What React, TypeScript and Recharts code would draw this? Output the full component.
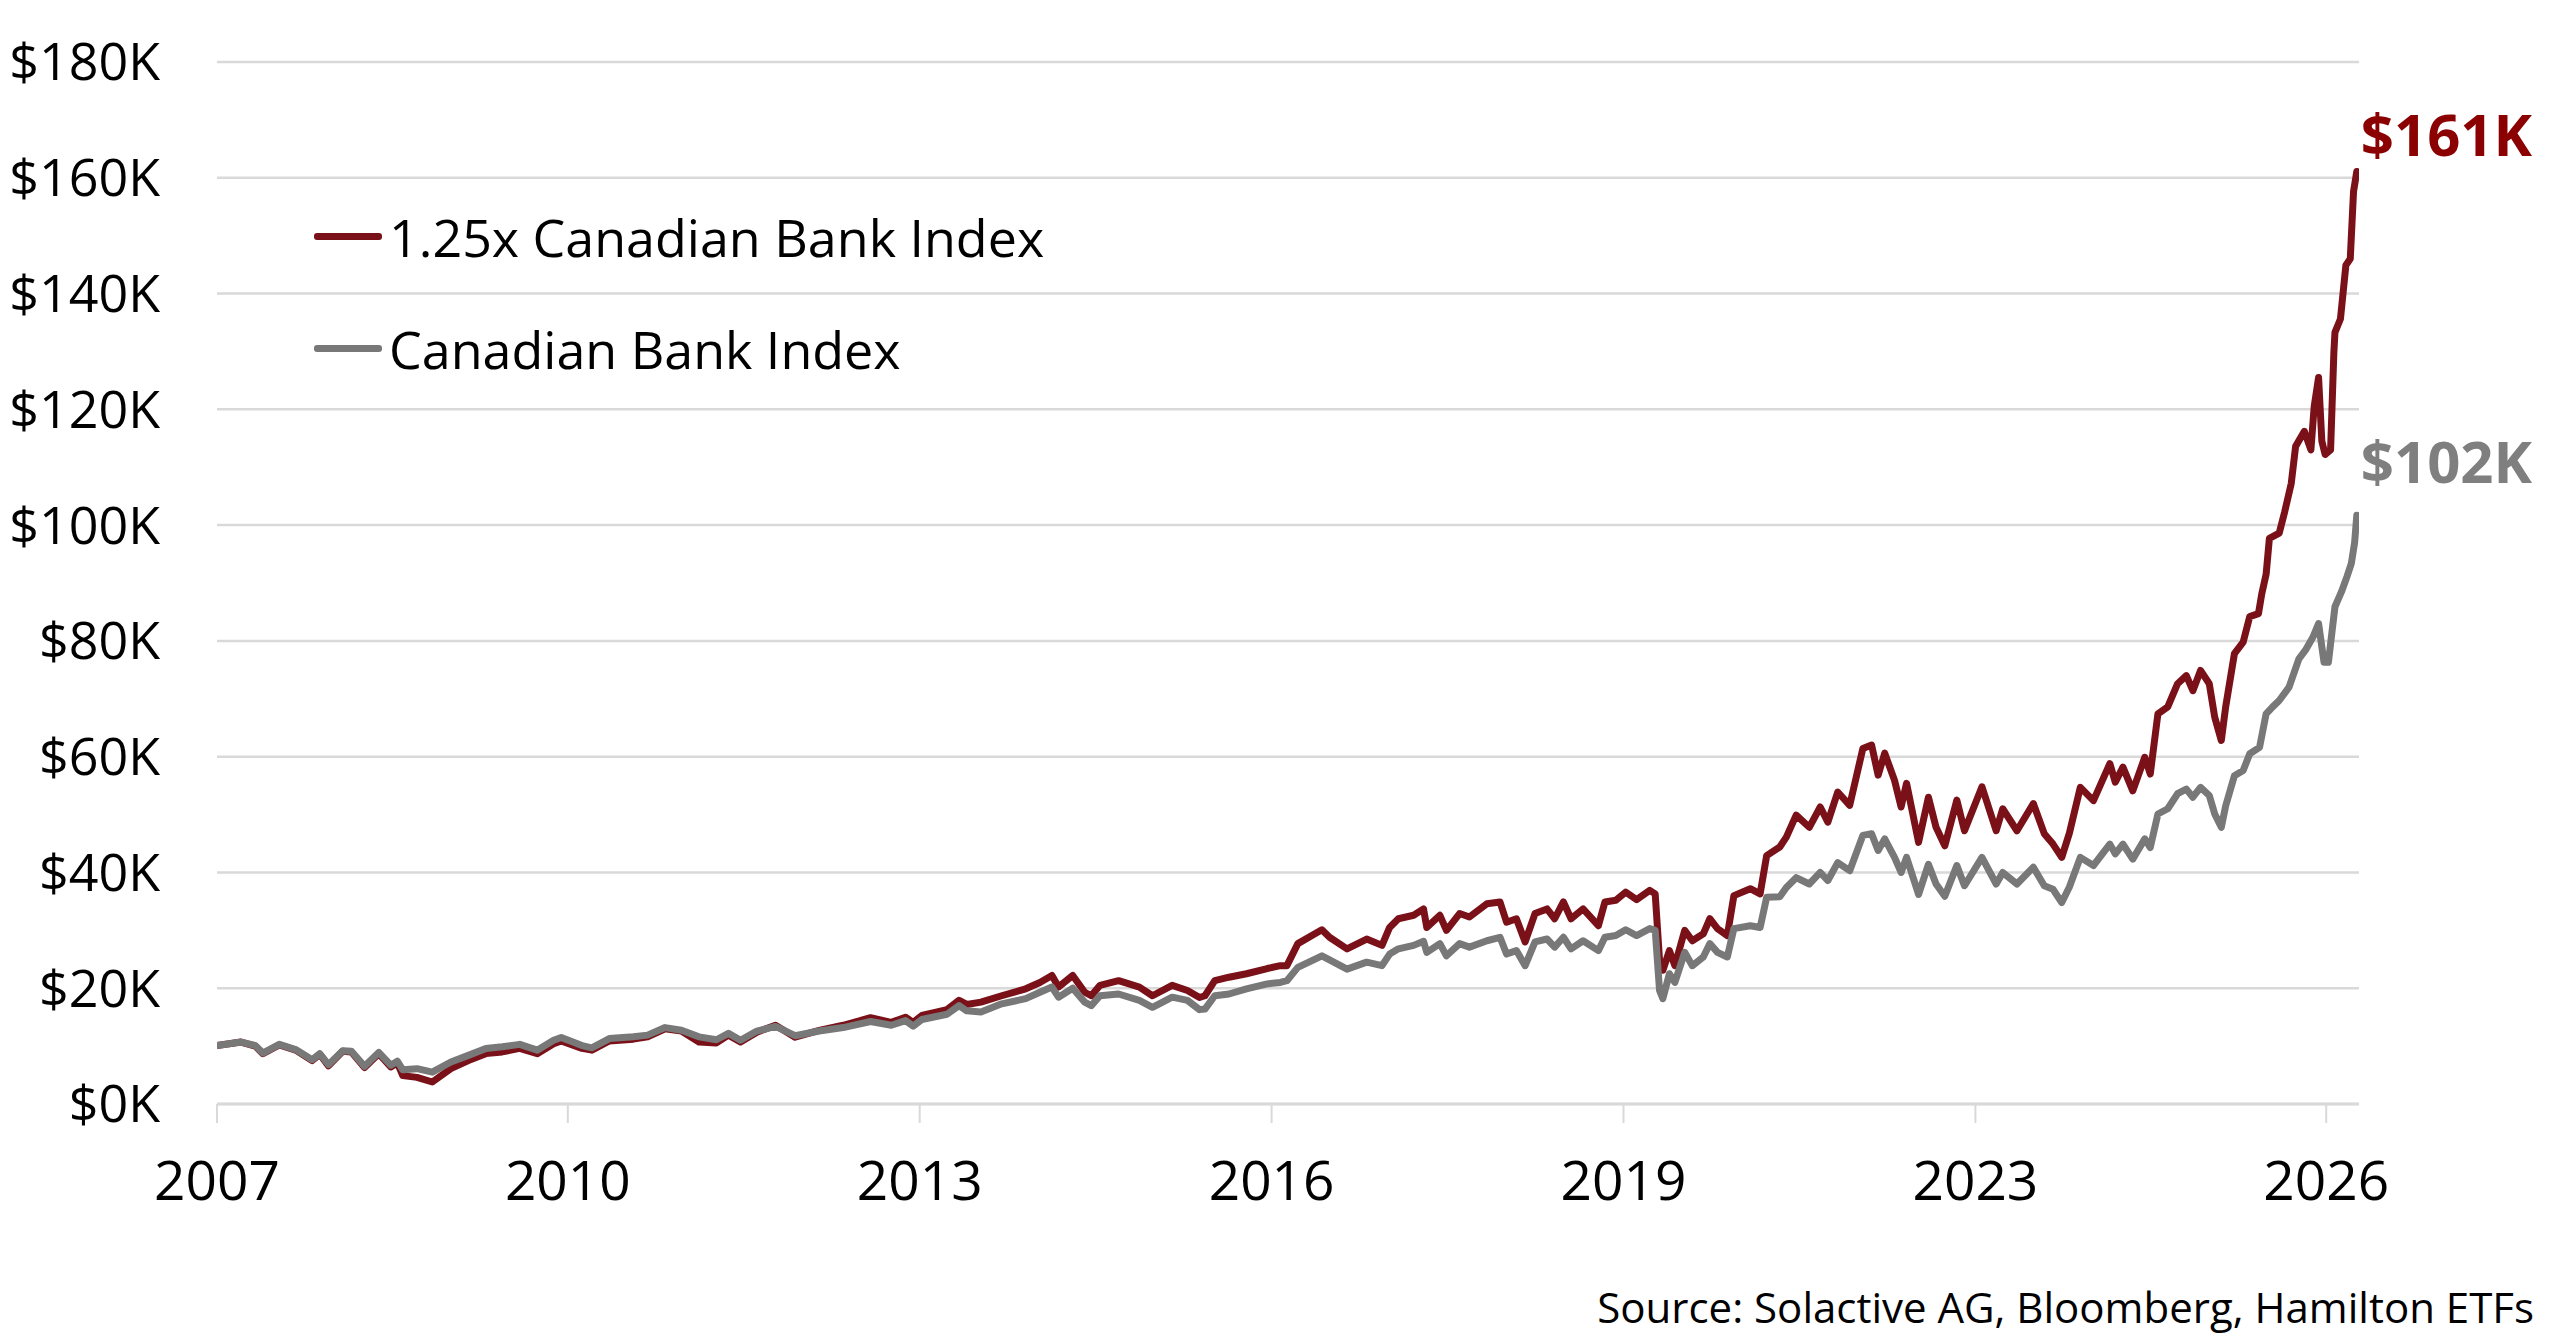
import React from "react";
import { LineChart, Line, XAxis, YAxis, CartesianGrid } from "recharts";

// Decimal-year positions of the readings
const redDates = [
  2007.0, 2007.22, 2007.35, 2007.42, 2007.57, 2007.72, 2007.87, 2007.94, 2008.02, 2008.15,
  2008.23, 2008.35, 2008.48, 2008.59, 2008.65, 2008.7, 2008.83, 2008.97, 2009.14, 2009.3,
  2009.46, 2009.61, 2009.77, 2009.93, 2010.08, 2010.15, 2010.34, 2010.43, 2010.59, 2010.81,
  2010.94, 2011.1, 2011.25, 2011.41, 2011.57, 2011.68, 2011.79, 2011.94, 2012.11, 2012.29,
  2012.51, 2012.73, 2012.98, 2013.17, 2013.3, 2013.37, 2013.45, 2013.68, 2013.79, 2013.86,
  2013.99, 2014.18, 2014.4, 2014.53, 2014.64, 2014.7, 2014.83, 2014.94, 2015.0, 2015.08,
  2015.25, 2015.44, 2015.56, 2015.74, 2015.88, 2015.99, 2016.04, 2016.13, 2016.26, 2016.42,
  2016.61, 2016.73, 2016.79, 2016.89, 2017.11, 2017.18, 2017.34, 2017.52, 2017.66, 2017.73,
  2017.81, 2017.95, 2018.04, 2018.07, 2018.19, 2018.25, 2018.37, 2018.46, 2018.62, 2018.74,
  2018.8, 2018.89, 2018.97, 2019.06, 2019.17, 2019.24, 2019.32, 2019.39, 2019.5, 2019.64,
  2019.7, 2019.8, 2019.89, 2019.99, 2020.11, 2020.16, 2020.2, 2020.23, 2020.29, 2020.34,
  2020.43, 2020.5, 2020.6, 2020.66, 2020.73, 2020.82, 2020.88, 2021.03, 2021.12, 2021.18,
  2021.3, 2021.36, 2021.45, 2021.57, 2021.67, 2021.74, 2021.83, 2021.94, 2022.06, 2022.14,
  2022.2, 2022.26, 2022.35, 2022.41, 2022.46, 2022.57, 2022.66, 2022.73, 2022.81, 2022.92,
  2022.99, 2023.15, 2023.28, 2023.34, 2023.47, 2023.62, 2023.72, 2023.8, 2023.88, 2023.95,
  2024.05, 2024.17, 2024.32, 2024.37, 2024.44, 2024.53, 2024.64, 2024.69, 2024.76, 2024.85,
  2024.94, 2025.02, 2025.08, 2025.15, 2025.23, 2025.28, 2025.34, 2025.38, 2025.46, 2025.54,
  2025.6, 2025.68, 2025.71, 2025.75, 2025.78, 2025.87, 2025.92, 2025.98, 2026.02, 2026.1,
  2026.16, 2026.19, 2026.23, 2026.26, 2026.29, 2026.34, 2026.37, 2026.38, 2026.43, 2026.48,
  2026.52, 2026.55, 2026.58,
];

// 1.25x Canadian Bank Index, growth of $10K, in $K
const redValues = [
  10.1, 10.7, 10.0, 8.7, 10.2, 9.3, 7.5, 8.6, 6.6, 9.1,
  9.0, 6.3, 8.7, 6.4, 7.1, 4.9, 4.6, 3.8, 6.1, 7.5,
  8.7, 9.0, 9.6, 8.7, 10.4, 10.9, 9.6, 9.3, 10.9, 11.2,
  11.6, 13.0, 12.6, 10.7, 10.55, 11.9, 10.7, 12.4, 13.6, 11.55,
  12.7, 13.6, 14.9, 14.1, 15.0, 14.1, 15.3, 16.3, 17.9, 17.2,
  17.6, 18.7, 19.9, 21.0, 22.2, 20.2, 22.2, 19.3, 18.7, 20.5,
  21.3, 20.2, 18.7, 20.5, 19.6, 18.4, 18.7, 21.3, 21.9, 22.5,
  23.4, 23.9, 23.9, 27.7, 30.1, 28.8, 26.8, 28.5, 27.4, 30.5,
  32.0, 32.6, 33.7, 30.5, 32.6, 30.0, 32.9, 32.3, 34.6, 34.9,
  31.4, 32.0, 28.0, 32.9, 33.7, 32.0, 34.9, 32.0, 33.7, 30.8,
  34.9, 35.2, 36.6, 35.3, 36.9, 36.3, 24.8, 23.1, 26.5, 23.9,
  30.0, 28.2, 29.4, 32.0, 30.3, 29.1, 36.0, 37.2, 36.3, 42.9,
  44.4, 46.1, 49.9, 47.8, 51.3, 48.7, 53.9, 51.6, 61.4, 62.0,
  56.8, 60.6, 55.9, 51.3, 55.4, 45.2, 53.0, 47.8, 44.6, 52.5,
  47.2, 54.8, 47.2, 51.0, 47.2, 51.9, 46.7, 44.9, 42.6, 46.8,
  54.7, 52.4, 58.8, 55.6, 58.2, 54.1, 59.9, 57.0, 67.4, 68.6,
  72.6, 74.0, 71.4, 74.9, 72.6, 66.8, 62.8, 68.6, 77.8, 79.8,
  84.2, 84.7, 88.1, 91.5, 97.7, 98.6, 102.3, 107.2, 113.6, 116.2,
  113.0, 120.5, 125.5, 114.5, 112.2, 113.0, 129.8, 133.3, 135.6, 144.9,
  146.0, 157.6, 161.1,
];

const grayDates = [
  2007.0, 2007.22, 2007.35, 2007.42, 2007.57, 2007.72, 2007.87, 2007.94, 2008.02, 2008.15,
  2008.23, 2008.35, 2008.48, 2008.59, 2008.65, 2008.7, 2008.83, 2008.97, 2009.14, 2009.3,
  2009.46, 2009.61, 2009.77, 2009.93, 2010.08, 2010.15, 2010.34, 2010.43, 2010.59, 2010.81,
  2010.94, 2011.1, 2011.25, 2011.41, 2011.57, 2011.68, 2011.79, 2011.94, 2012.11, 2012.29,
  2012.51, 2012.73, 2012.98, 2013.17, 2013.3, 2013.37, 2013.45, 2013.68, 2013.79, 2013.86,
  2013.99, 2014.18, 2014.4, 2014.53, 2014.64, 2014.7, 2014.83, 2014.94, 2015.0, 2015.08,
  2015.25, 2015.44, 2015.56, 2015.74, 2015.88, 2015.99, 2016.04, 2016.13, 2016.26, 2016.42,
  2016.61, 2016.73, 2016.79, 2016.89, 2017.11, 2017.18, 2017.34, 2017.52, 2017.66, 2017.73,
  2017.81, 2017.95, 2018.04, 2018.07, 2018.19, 2018.25, 2018.37, 2018.46, 2018.62, 2018.74,
  2018.8, 2018.89, 2018.97, 2019.06, 2019.17, 2019.24, 2019.32, 2019.39, 2019.5, 2019.64,
  2019.7, 2019.8, 2019.89, 2019.99, 2020.11, 2020.16, 2020.2, 2020.23, 2020.29, 2020.34,
  2020.43, 2020.5, 2020.6, 2020.66, 2020.73, 2020.82, 2020.88, 2021.03, 2021.12, 2021.18,
  2021.3, 2021.36, 2021.45, 2021.57, 2021.67, 2021.74, 2021.83, 2021.94, 2022.06, 2022.14,
  2022.2, 2022.26, 2022.35, 2022.41, 2022.46, 2022.57, 2022.66, 2022.73, 2022.81, 2022.92,
  2022.99, 2023.15, 2023.28, 2023.34, 2023.47, 2023.62, 2023.72, 2023.8, 2023.88, 2023.95,
  2024.05, 2024.17, 2024.32, 2024.37, 2024.44, 2024.53, 2024.64, 2024.69, 2024.76, 2024.85,
  2024.94, 2025.02, 2025.08, 2025.15, 2025.23, 2025.28, 2025.34, 2025.38, 2025.46, 2025.54,
  2025.6, 2025.69, 2025.75, 2025.81, 2025.87, 2025.96, 2026.05, 2026.11, 2026.18, 2026.23,
  2026.28, 2026.32, 2026.38, 2026.44, 2026.49, 2026.53, 2026.56, 2026.58,
];

// Canadian Bank Index, growth of $10K, in $K
const grayValues = [
  10.1, 10.7, 10.1, 8.8, 10.3, 9.4, 7.65, 8.7, 6.8, 9.2,
  9.1, 6.5, 8.9, 6.7, 7.4, 5.9, 6.1, 5.5, 7.25, 8.4,
  9.6, 9.9, 10.3, 9.3, 11.0, 11.5, 10.1, 9.7, 11.3, 11.6,
  11.9, 13.2, 12.75, 11.6, 11.1, 12.2, 11.0, 12.6, 13.4, 11.8,
  12.6, 13.2, 14.25, 13.6, 14.4, 13.45, 14.6, 15.5, 17.0, 16.1,
  15.9, 17.3, 18.2, 19.3, 20.2, 18.45, 20.0, 17.6, 17.0, 18.7,
  19.0, 17.9, 16.7, 18.45, 17.9, 16.3, 16.4, 18.7, 19.0, 19.9,
  20.75, 21.0, 21.3, 23.6, 25.6, 24.9, 23.3, 24.5, 23.9, 25.9,
  26.8, 27.4, 28.1, 26.2, 27.7, 25.6, 27.7, 27.1, 28.2, 28.8,
  25.9, 26.5, 23.9, 28.0, 28.5, 27.1, 28.8, 26.8, 28.2, 26.5,
  28.8, 29.1, 30.1, 29.1, 30.3, 30.0, 19.6, 18.2, 22.5, 21.0,
  26.2, 23.9, 25.4, 27.7, 26.2, 25.4, 30.3, 30.8, 30.5, 35.7,
  35.8, 37.4, 39.1, 38.0, 40.0, 38.6, 41.7, 40.3, 46.4, 46.7,
  43.8, 45.8, 42.6, 40.0, 42.6, 36.2, 41.4, 38.0, 35.9, 41.2,
  37.7, 42.6, 38.0, 40.0, 38.0, 40.9, 37.7, 37.1, 34.8, 37.5,
  42.6, 41.2, 44.9, 43.2, 44.9, 42.3, 45.8, 44.3, 50.1, 51.0,
  53.6, 54.4, 53.0, 54.7, 53.3, 50.1, 47.8, 51.5, 56.7, 57.6,
  60.5, 61.6, 67.4, 68.6, 69.7, 72.0, 76.9, 78.4, 80.7, 83.0,
  76.3, 76.3, 85.9, 88.5, 91.1, 93.4, 97.0, 101.7,
];

const yTicks = [0, 20, 40, 60, 80, 100, 120, 140, 160, 180];
const xTicks = [2007, 2010.21, 2013.43, 2016.65, 2019.87, 2023.09, 2026.3];
const xTickLabels = ["2007", "2010", "2013", "2016", "2019", "2023", "2026"];

const seriesNames = ["1.25x Canadian Bank Index", "Canadian Bank Index"];
const sourceNote = "Source: Solactive AG, Bloomberg, Hamilton ETFs";

const RED = "#7b1118";
const RED_LABEL = "#8b0000";
const GRAY = "#787878";
const GRAY_LABEL = "#7f7f7f";
const GRID = "#d9d9d9";
const FONT = "'Open Sans', 'Noto Sans', sans-serif";
const seriesColors = [RED, GRAY];

const redData = redDates.map((t, i) => ({ t, v: redValues[i] }));
const grayData = grayDates.map((t, i) => ({ t, v: grayValues[i] }));

function makeEndLabel(lastIndex: number, color: string, dy: number) {
  return (props: any) => {
    const { x, y, index, value } = props;
    if (index !== lastIndex) return null;
    return (
      <text
        x={x + 4}
        y={y + dy}
        fill={color}
        fontFamily={FONT}
        fontWeight={700}
        fontSize={58}
        textAnchor="start"
      >
        {`$${Math.round(Number(value))}K`}
      </text>
    );
  };
}

function ChartLegend() {
  return (
    <div
      style={{
        position: "absolute",
        left: 306,
        top: 172,
        fontFamily: FONT,
        fontSize: 52,
        color: "#000",
      }}
    >
      {seriesNames.map((name, i) => (
        <div
          key={name}
          style={{ display: "flex", alignItems: "center", height: 112, whiteSpace: "nowrap" }}
        >
          <span
            style={{
              display: "inline-block",
              width: 68,
              height: 7,
              borderRadius: 3,
              background: seriesColors[i],
              marginRight: 7,
            }}
          />
          <span>{name}</span>
        </div>
      ))}
    </div>
  );
}

export default function App() {
  const W = 2544;
  const H = 1325;
  return (
    <div style={{ position: "relative", width: W, height: H, background: "#fff" }}>
      <LineChart
        width={W}
        height={H}
        margin={{ top: 54, right: 193, left: 0, bottom: 129 }}
      >
        <CartesianGrid horizontal vertical={false} stroke={GRID} strokeWidth={2.5} />
        <XAxis
          type="number"
          dataKey="t"
          domain={[2007, 2026.6]}
          ticks={xTicks}
          allowDataOverflow
          height={100}
          interval={0}
          tickFormatter={(v: number) => xTickLabels[xTicks.indexOf(v)] ?? ""}
          axisLine={{ stroke: GRID, strokeWidth: 3 }}
          tickLine={{ stroke: GRID, strokeWidth: 2 }}
          tickSize={19}
          tickMargin={38}
          tick={{ fill: "#000", fontSize: 55, fontFamily: FONT }}
        />
        <YAxis
          type="number"
          domain={[0, 180]}
          ticks={yTicks}
          width={209}
          interval={0}
          axisLine={false}
          tickLine={false}
          tickSize={0}
          tickMargin={57}
          tickFormatter={(v: number) => `$${v}K`}
          tick={{ fill: "#000", fontSize: 52, fontFamily: FONT }}
        />
        <Line
          data={redData}
          dataKey="v"
          name={seriesNames[0]}
          stroke={RED}
          strokeWidth={7}
          dot={false}
          activeDot={false}
          type="linear"
          strokeLinejoin="round"
          strokeLinecap="round"
          isAnimationActive={false}
          label={makeEndLabel(redData.length - 1, RED_LABEL, -15)}
        />
        <Line
          data={grayData}
          dataKey="v"
          name={seriesNames[1]}
          stroke={GRAY}
          strokeWidth={7}
          dot={false}
          activeDot={false}
          type="linear"
          strokeLinejoin="round"
          strokeLinecap="round"
          isAnimationActive={false}
          label={makeEndLabel(grayData.length - 1, GRAY_LABEL, -32)}
        />
      </LineChart>
      <ChartLegend />
      <div
        style={{
          position: "absolute",
          right: W - 2526,
          top: 1270,
          fontFamily: FONT,
          fontSize: 42,
          color: "#000",
          whiteSpace: "nowrap",
        }}
      >
        {sourceNote}
      </div>
    </div>
  );
}
